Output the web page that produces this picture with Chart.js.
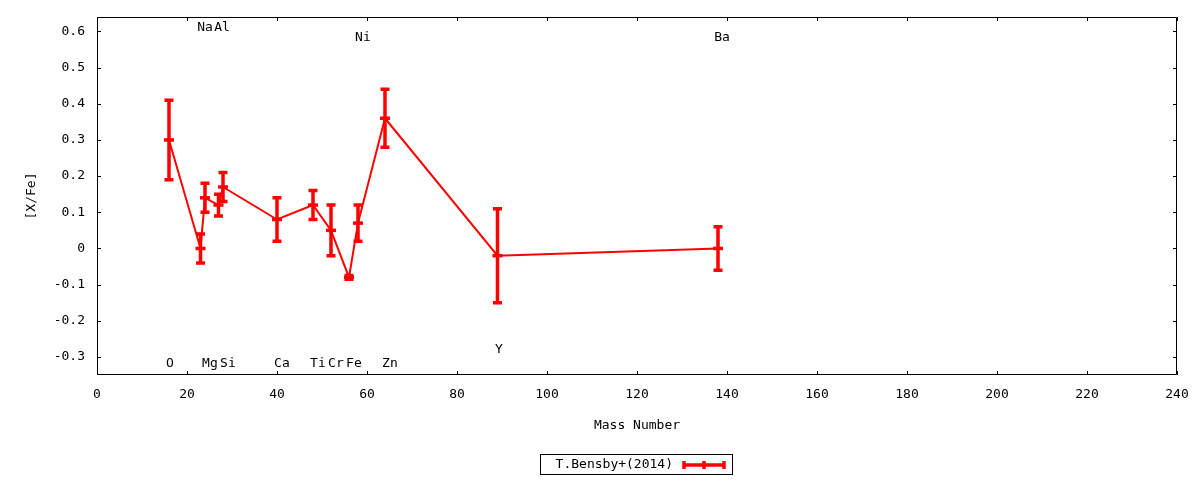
<!DOCTYPE html>
<html>
<head>
<meta charset="utf-8">
<script src="https://cdn.jsdelivr.net/npm/chart.js@4"></script>
<style>
  html, body { margin: 0; padding: 0; background: #fff; }
  #wrap { width: 1200px; height: 480px; }
</style>
</head>
<body>
<div id="wrap"><canvas id="abund"></canvas></div>
<script>
// values
const elements = ['O', 'Na', 'Mg', 'Al', 'Si', 'Ca', 'Ti', 'Cr', 'Fe', 'Ni', 'Zn', 'Y', 'Ba'];
const massNumbers = [16, 23, 24, 27, 28, 40, 48, 52, 56, 58, 64, 89, 138];
const xFe = [0.30, 0.00, 0.14, 0.12, 0.17, 0.08, 0.12, 0.05, -0.08, 0.07, 0.36, -0.02, 0.00];
const xFeErr = [0.11, 0.04, 0.04, 0.03, 0.04, 0.06, 0.04, 0.07, 0.005, 0.05, 0.08, 0.13, 0.06];

// where gnuplot put the element names (data coords)
const labelX = [16.2, 24, 25.1, 27.8, 29.1, 41.1, 49.1, 53.1, 57.1, 59.1, 65.1, 89.3, 138.9];
const labelY = [-0.318, 0.612, -0.318, 0.612, -0.318, -0.318, -0.318, -0.318, -0.318, 0.584, -0.318, -0.28, 0.584];

const xTicks = [0, 20, 40, 60, 80, 100, 120, 140, 160, 180, 200, 220, 240];
const yTicks = [-0.3, -0.2, -0.1, 0, 0.1, 0.2, 0.3, 0.4, 0.5, 0.6];

const seriesName = 'T.Bensby+(2014)';
const RED = '#ff0000';
const FONT = "'DejaVu Sans Mono', monospace";

// frame, inward ticks, error bars, element labels and the key
const gnuplotLook = {
  id: 'gnuplotLook',
  beforeDatasetsDraw(chart) {
    const ctx = chart.ctx;
    const xs = chart.scales.x, ys = chart.scales.y;
    const a = chart.chartArea;
    ctx.save();
    ctx.strokeStyle = '#000';
    ctx.lineWidth = 1;
    ctx.beginPath();
    ctx.rect(a.left + 0.5, a.top + 0.5, a.right - a.left - 1, a.bottom - a.top - 1);
    xTicks.forEach(v => {
      const px = Math.round(xs.getPixelForValue(v)) + 0.5;
      ctx.moveTo(px, a.bottom); ctx.lineTo(px, a.bottom - 4);
      ctx.moveTo(px, a.top); ctx.lineTo(px, a.top + 4);
    });
    yTicks.forEach(v => {
      const py = Math.round(ys.getPixelForValue(v)) + 0.5;
      ctx.moveTo(a.left, py); ctx.lineTo(a.left + 4, py);
      ctx.moveTo(a.right, py); ctx.lineTo(a.right - 4, py);
    });
    ctx.stroke();

    // error bars
    ctx.strokeStyle = RED;
    ctx.lineWidth = 3.5;
    ctx.beginPath();
    massNumbers.forEach((m, i) => {
      const px = xs.getPixelForValue(m);
      const top = ys.getPixelForValue(xFe[i] + xFeErr[i]);
      const bot = ys.getPixelForValue(xFe[i] - xFeErr[i]);
      ctx.moveTo(px, top); ctx.lineTo(px, bot);
      ctx.moveTo(px - 4.5, top); ctx.lineTo(px + 4.5, top);
      ctx.moveTo(px - 4.5, bot); ctx.lineTo(px + 4.5, bot);
    });
    ctx.stroke();

    // element names
    ctx.fillStyle = '#000';
    ctx.font = '13px ' + FONT;
    ctx.textAlign = 'center';
    ctx.textBaseline = 'middle';
    elements.forEach((el, i) => {
      ctx.fillText(el, xs.getPixelForValue(labelX[i]), ys.getPixelForValue(labelY[i]));
    });
    ctx.restore();
  },
  afterDraw(chart) {
    const ctx = chart.ctx;
    const a = chart.chartArea;
    const cx = (a.left + a.right) / 2 - 1;
    const y = chart.height - 15;
    ctx.save();
    ctx.strokeStyle = '#000';
    ctx.lineWidth = 1;
    ctx.strokeRect(Math.round(cx - 96) + 0.5, y - 10.5, 192, 20);
    ctx.fillStyle = '#000';
    ctx.font = '13px ' + FONT;
    ctx.textAlign = 'right';
    ctx.textBaseline = 'middle';
    ctx.fillText(chart.data.datasets[0].label, cx + 37, y);
    ctx.strokeStyle = RED;
    ctx.lineWidth = 3.5;
    const x0 = cx + 48, x1 = cx + 88;
    ctx.beginPath();
    ctx.moveTo(x0, y); ctx.lineTo(x1, y);
    ctx.moveTo(x0, y - 4); ctx.lineTo(x0, y + 4);
    ctx.moveTo(x1, y - 4); ctx.lineTo(x1, y + 4);
    ctx.moveTo((x0 + x1) / 2, y - 4); ctx.lineTo((x0 + x1) / 2, y + 4);
    ctx.stroke();
    ctx.restore();
  }
};

new Chart(document.getElementById('abund'), {
  type: 'line',
  data: {
    datasets: [{
      label: seriesName,
      data: massNumbers.map((m, i) => ({ x: m, y: xFe[i] })),
      borderColor: RED,
      backgroundColor: RED,
      borderWidth: 2,
      tension: 0,
      pointStyle: 'line',
      pointRadius: 5,
      pointBorderWidth: 3.5,
      pointHoverRadius: 5
    }]
  },
  options: {
    responsive: true,
    maintainAspectRatio: false,
    animation: false,
    layout: { padding: { left: 0, top: 17, right: 23, bottom: 0 } },
    plugins: {
      legend: { display: false },
      tooltip: { enabled: false }
    },
    scales: {
      x: {
        type: 'linear',
        min: 0,
        max: 240,
        afterFit: s => { s.height = 105; s.paddingLeft = 0; s.paddingRight = 0; },
        afterBuildTicks: s => { s.ticks = xTicks.map(v => ({ value: v })); },
        grid: { display: false, drawTicks: false },
        border: { display: false },
        ticks: { color: '#000', padding: 12, maxRotation: 0, font: { family: FONT, size: 13 } },
        title: { display: true, text: 'Mass Number', color: '#000', padding: { top: 0, bottom: 47 }, font: { family: FONT, size: 13 } }
      },
      y: {
        type: 'linear',
        min: -0.35,
        max: 0.64,
        afterFit: s => { s.width = 97; s.paddingTop = 0; s.paddingBottom = 0; },
        afterBuildTicks: s => { s.ticks = yTicks.map(v => ({ value: v })); },
        grid: { display: false, drawTicks: false },
        border: { display: false },
        ticks: {
          color: '#000',
          padding: 12,
          font: { family: FONT, size: 13 },
          callback: v => String(Math.round(v * 10) / 10)
        },
        title: { display: true, text: '[X/Fe]', color: '#000', padding: { top: 24, bottom: 0 }, font: { family: FONT, size: 13 } }
      }
    }
  },
  plugins: [gnuplotLook]
});
</script>
</body>
</html>
